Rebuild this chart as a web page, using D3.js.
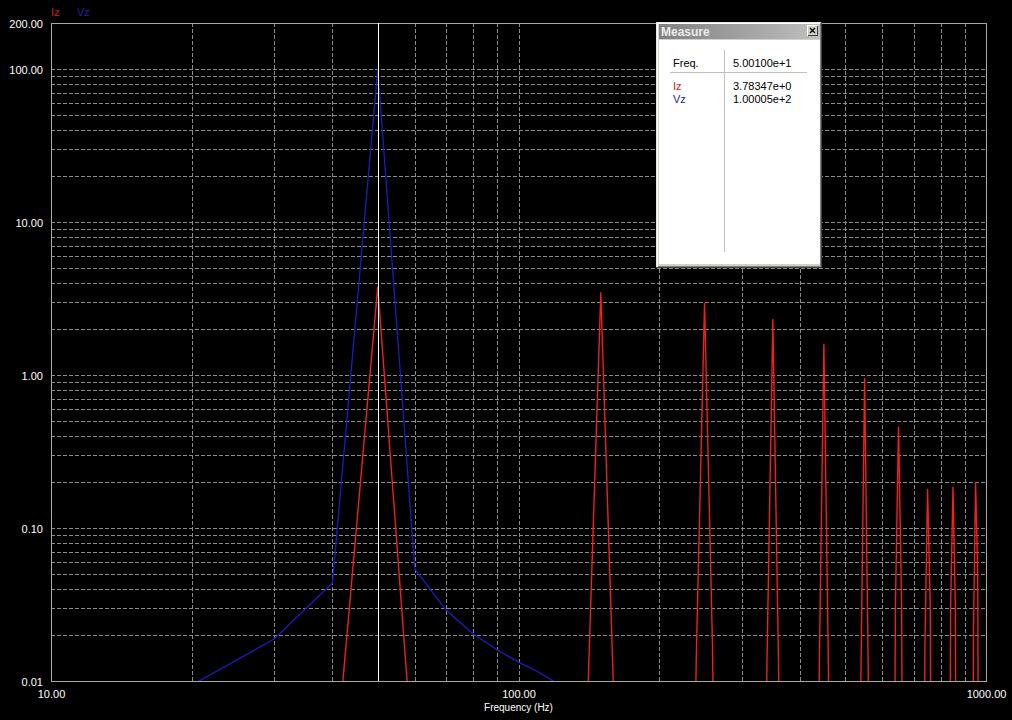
<!DOCTYPE html>
<html>
<head>
<meta charset="utf-8">
<script src="https://cdn.jsdelivr.net/npm/d3@7"></script>
<style>
  body { margin: 0; background: #000; }
  svg { display: block; }
  text { font-family: "Liberation Sans", Arial, sans-serif; }
</style>
</head>
<body>
<svg width="1012" height="720"></svg>
<script>
// spectrum bins (10 Hz spacing)
var vzFreq = [20, 30, 40, 50, 60, 70, 80, 90, 100, 110, 120, 130];
var vzVal  = [0.0094, 0.0188, 0.0437, 100.005, 0.054, 0.0291, 0.0203, 0.016, 0.0133, 0.0115, 0.0098, 0.008];

var izFreq = [40, 50, 60,
              140, 150, 160,
              230, 240, 250, 260, 270,
              330, 340, 350, 360, 370,
              430, 440, 450, 460, 470,
              530, 540, 550, 560, 570,
              630, 640, 650, 660, 670,
              730, 740, 750, 760, 770,
              830, 840, 850, 860, 870,
              930, 940, 950, 960, 970];
var izVal  = [0.0017, 3.78347, 0.0021,
              0.0051, 3.47, 0.0072,
              1e-6, 0.014, 2.97, 0.017, 1e-6,
              1e-6, 0.0131, 2.32, 0.0125, 1e-6,
              1e-6, 0.0125, 1.60, 0.0135, 1e-6,
              1e-6, 0.0105, 0.953, 0.0113, 1e-6,
              1e-6, 0.03, 0.46, 0.03, 1e-6,
              1e-6, 0.016, 0.18, 0.03, 1e-6,
              1e-6, 0.03, 0.186, 0.03, 1e-6,
              1e-6, 0.02, 0.199, 0.05, 1e-6];

var xTickVals = [10, 100, 1000];
var yTickVals = [0.01, 0.1, 1, 10, 100, 200];

var seriesNames = ["Iz", "Vz"];
var seriesColors = ["#ee2020", "#1c1cc0"];
var legendColors = ["#c82020", "#2020b0"];

var cursorFreq = 50.01;
var measureVals = [3.78347, 100.005];

var svg = d3.select("svg");
var pL = 51, pT = 23, pR = 986, pB = 681;

var x = d3.scaleLog().domain([10, 1000]).range([pL, pR]);
var y = d3.scaleLog().domain([0.01, 200]).range([pB, pT]);
var fmt = d3.format(".2f");

// grid
var xGrid = x.ticks().filter(function(d){ return d > 10 && d < 1000; });
var yGrid = y.ticks().filter(function(d){ return d > 0.01 && d < 200; });

var gx = svg.append("g")
    .attr("transform", "translate(0," + pB + ")")
    .call(d3.axisBottom(x).tickValues(xGrid).tickSize(-(pB - pT)).tickFormat(""));
var gy = svg.append("g")
    .attr("transform", "translate(" + pL + ",0)")
    .call(d3.axisLeft(y).tickValues(yGrid).tickSize(-(pR - pL)).tickFormat(""));
[gx, gy].forEach(function(g){
  g.select(".domain").remove();
  g.selectAll("line")
    .attr("stroke", "#8c8c8c")
    .attr("stroke-dasharray", "4,2")
    .attr("shape-rendering", "crispEdges");
});

// frame
svg.append("rect")
    .attr("x", pL + 0.5).attr("y", pT + 0.5)
    .attr("width", pR - pL).attr("height", pB - pT)
    .attr("fill", "none").attr("stroke", "#a8a8a8")
    .attr("shape-rendering", "crispEdges");

// tick labels
var ax = svg.append("g")
    .attr("transform", "translate(0," + pB + ")")
    .call(d3.axisBottom(x).tickValues(xTickVals).tickFormat(fmt).tickSize(0).tickPadding(9));
var ay = svg.append("g")
    .attr("transform", "translate(" + pL + ",0)")
    .call(d3.axisLeft(y).tickValues(yTickVals).tickFormat(fmt).tickSize(0).tickPadding(8));
[ax, ay].forEach(function(g){
  g.select(".domain").remove();
  g.selectAll("text")
    .attr("fill", "#fff")
    .style("font-size", "11px")
    .style("font-family", "'Liberation Sans', Arial, sans-serif");
});
ay.selectAll("text").attr("dy", "0.38em");

svg.append("text")
    .attr("x", (pL + pR) / 2).attr("y", 711)
    .attr("text-anchor", "middle")
    .attr("fill", "#fff").style("font-size", "10px")
    .text("Frequency (Hz)");

// legend
svg.selectAll(".leg").data(seriesNames).join("text")
    .attr("class", "leg")
    .attr("x", function(d, i){ return 51 + i * 26; })
    .attr("y", 16)
    .attr("fill", function(d, i){ return legendColors[i]; })
    .style("font-size", "11px")
    .text(function(d){ return d; });

// series
svg.append("clipPath").attr("id", "plot")
  .append("rect").attr("x", pL).attr("y", pT)
    .attr("width", pR - pL + 1).attr("height", pB - pT);

var line = d3.line()
    .x(function(d){ return x(d[0]); })
    .y(function(d){ return y(d[1]); });

var plot = svg.append("g").attr("clip-path", "url(#plot)");
plot.append("path")
    .datum(d3.zip(vzFreq, vzVal))
    .attr("d", line)
    .attr("fill", "none").attr("stroke", seriesColors[1]).attr("stroke-width", 1.3);
plot.append("path")
    .datum(d3.zip(izFreq, izVal))
    .attr("d", line)
    .attr("fill", "none").attr("stroke", seriesColors[0]).attr("stroke-width", 1.4);

// cursor
var cx = Math.round(x(cursorFreq)) + 0.5;
svg.append("line")
    .attr("x1", cx).attr("x2", cx).attr("y1", pT).attr("y2", pB)
    .attr("stroke", "#fff").attr("shape-rendering", "crispEdges");

// measure window
var mw = svg.append("g").attr("shape-rendering", "crispEdges");
var defs = svg.append("defs");
var grad = defs.append("linearGradient").attr("id", "cap");
grad.append("stop").attr("offset", "0%").attr("stop-color", "#808080");
grad.append("stop").attr("offset", "100%").attr("stop-color", "#c0c0c0");

mw.append("rect").attr("x", 656).attr("y", 22).attr("width", 166).attr("height", 246).attr("fill", "#d4d0c8");
mw.append("path").attr("d", "M656.5,267.5V22.5H821.5").attr("fill", "none").attr("stroke", "#e8e6e0");
mw.append("path").attr("d", "M657.5,266.5V23.5H820.5").attr("fill", "none").attr("stroke", "#ffffff");
mw.append("path").attr("d", "M656,267.5H821.5V22").attr("fill", "none").attr("stroke", "#404040");
mw.append("path").attr("d", "M658,266.5H820.5V23").attr("fill", "none").attr("stroke", "#808080");
mw.append("rect").attr("x", 659).attr("y", 24).attr("width", 161).attr("height", 15).attr("fill", "url(#cap)");
mw.append("text").attr("x", 661).attr("y", 36)
    .attr("fill", "#ececec").style("font-size", "12px").style("font-weight", "bold")
    .text("Measure");
// close button
mw.append("rect").attr("x", 807).attr("y", 25).attr("width", 11).attr("height", 11).attr("fill", "#d4d0c8");
mw.append("path").attr("d", "M807.5,35.5V25.5H817.5").attr("fill", "none").attr("stroke", "#fff");
mw.append("path").attr("d", "M807.5,35.5H817.5V25.5").attr("fill", "none").attr("stroke", "#404040");
mw.append("path").attr("d", "M810,28L815,33M815,28L810,33")
    .attr("stroke", "#000").attr("stroke-width", 1.3).attr("shape-rendering", "auto");

mw.append("rect").attr("x", 659).attr("y", 40).attr("width", 161).attr("height", 224).attr("fill", "#fff");
mw.append("line").attr("x1", 724.5).attr("x2", 724.5).attr("y1", 50).attr("y2", 252).attr("stroke", "#c0c0c0");
mw.append("line").attr("x1", 670).attr("x2", 807).attr("y1", 72.5).attr("y2", 72.5).attr("stroke", "#c0c0c0");

var rows = [["Freq.", cursorFreq, "#000"]].concat(seriesNames.map(function(n, i){
  return [n, measureVals[i], legendColors[i]];
}));
var rowY = [67, 90, 103];
mw.selectAll(".mlab").data(rows).join("text")
    .attr("x", 673).attr("y", function(d, i){ return rowY[i]; })
    .attr("fill", function(d){ return d[2]; }).style("font-size", "11px")
    .text(function(d){ return d[0]; });
mw.selectAll(".mval").data(rows).join("text")
    .attr("x", 733).attr("y", function(d, i){ return rowY[i]; })
    .attr("fill", "#000").style("font-size", "11px")
    .text(function(d){ return d[1].toExponential(5); });
</script>
</body>
</html>
